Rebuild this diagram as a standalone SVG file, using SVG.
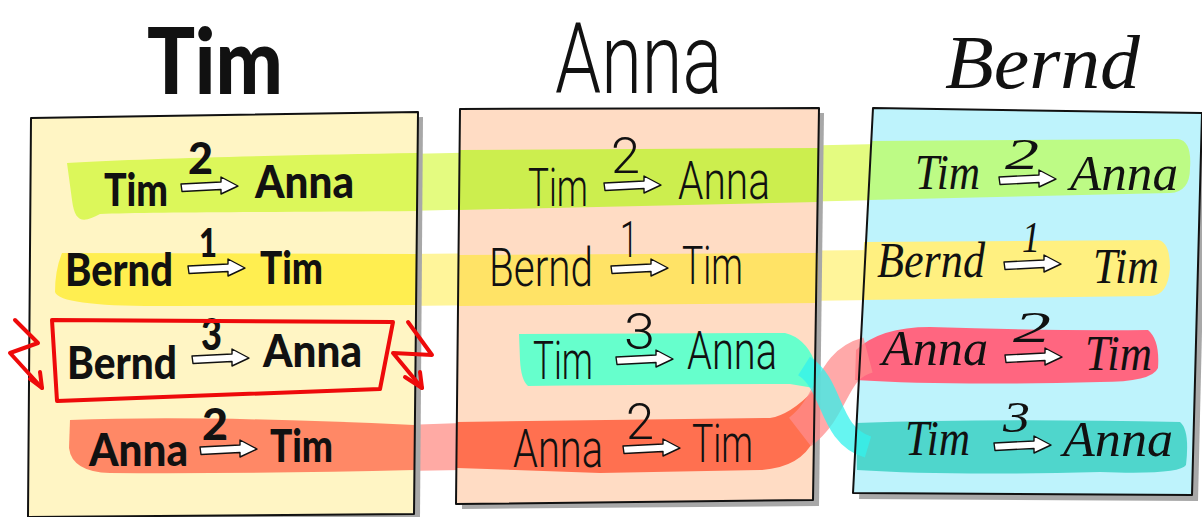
<svg xmlns="http://www.w3.org/2000/svg" xmlns:xlink="http://www.w3.org/1999/xlink" width="1202" height="517" viewBox="0 0 1202 517">
<style>
.shadow{fill:#a8a8a8}
.edge{fill:none;stroke:#111;stroke-width:2;stroke-linejoin:round}
.b{font-family:"Lato","DejaVu Sans",sans-serif;font-weight:900;fill:#111}
.h{font-family:"Roboto","Open Sans",sans-serif;font-weight:300;fill:#111}
.c{font-family:"Liberation Serif","DejaVu Serif",serif;font-style:italic;fill:#111}
.red{fill:none;stroke:#ee0a0a;stroke-width:4;stroke-linejoin:round;stroke-linecap:round}
.arr{fill:#fff;stroke:#111;stroke-width:1.4;stroke-linejoin:round}
</style>
<defs>
<path id="ar" d="M0,-2 L40,-4 L40,-9 L57,0 L40,8 L40,3.5 L1,5.5 Z"/>
</defs>
<rect width="1202" height="517" fill="#fff"/>
<!-- bands outside panels -->
<g id="band-outside">
<path d="M405,154 L880,144 L880,200 L405,211 Z" fill="#e4fb80"/>
<path d="M405,254 L875,250 L875,300 L405,306 Z" fill="#fff59a"/>
<path d="M405,425 L462,423 L462,470 L405,471 Z" fill="#ffaaa4"/>
</g>
<!-- panel shadows -->
<polygon class="shadow" points="36,123 423,117 420,519 33,521"/>
<polygon class="shadow" points="465,114 824,113 819,506 462,509"/>
<polygon class="shadow" points="878,113 1207,118 1198,501 859,499"/>
<!-- panels -->
<g id="panel-tim">
<polygon points="31,118 418,112 414,514 28,517" fill="#fff5c4"/>
<path d="M67,163 C150,158 300,155 418,153 L418,211 C300,212 150,212 100,214 C85,222 75,225 72,200 Z" fill="#dcf75a"/>
<path d="M62,253 L417,254 L417,305 L170,306 Q60,307 55,292 Q55,270 62,253 Z" fill="#ffee50"/>
<path d="M70,420 Q200,415 414,425 L414,470 Q250,474 110,473 Q72,472 69,448 Z" fill="#ff8866"/>
</g>
<g id="panel-anna">
<polygon points="460,109 819,108 813,500 456,504" fill="#ffdcc4"/>
<path d="M459,150 L819,148 L818,202 L459,210 Z" fill="#ccee4e"/>
<path d="M458,255 L818,253 L817,303 L458,306 Z" fill="#ffe366"/>
<path d="M519,334 L785,333 Q805,338 814,360 L814,388 L790,384 Q700,384 528,386 Q521,380 520,360 Z" fill="#66ffcc"/>
<path d="M457,422 L770,418 Q790,415 814,390 L814,440 Q800,468 760,470 L600,473 L457,468 Z" fill="#ff7050"/>
</g>
<g id="panel-bernd">
<polygon points="873,108 1202,113 1192,495 853,493" fill="#bef3fc"/>
<path d="M871,141 L1178,139 Q1192,141 1190,168 Q1190,192 1170,193 L868,200 Z" fill="#bdfb85"/>
<path d="M864,242 L1158,240 Q1170,242 1170,268 Q1168,296 1150,296 L862,300 Z" fill="#fff080"/>
<path d="M856,350 Q880,327 930,327 Q1050,331 1148,330 Q1160,340 1158,368 Q1152,382 1100,382 Q950,386 855,380 Z" fill="#ff6680"/>
<path d="M856,423 Q1000,418 1180,422 Q1190,430 1186,465 Q1180,475 1100,472 Q950,476 857,470 Z" fill="#4fd6cc"/>
</g>
<!-- connectors: ribbons between columns -->
<g id="connectors">
<path d="M800,432 C835,405 830,365 868,355" fill="none" stroke="#ff8c8c" stroke-width="36" stroke-opacity="0.75"/>
<path d="M804,366 C834,385 828,435 868,447" fill="none" stroke="#33f2ec" stroke-width="22" stroke-opacity="0.75"/>
</g>
<!-- panel edges -->
<polygon class="edge" points="31,118 418,112 414,514 28,517"/>
<polygon class="edge" points="460,109 819,108 813,500 456,504"/>
<polygon class="edge" points="873,108 1202,113 1192,495 853,493"/>
<!-- titles -->
<g id="titles">
<text class="b" x="147" y="94" font-size="92" textLength="136" lengthAdjust="spacingAndGlyphs">Tim</text>
<text class="h" x="555" y="93" font-size="98" textLength="167" lengthAdjust="spacingAndGlyphs">Anna</text>
<text class="c" x="945" y="88" font-size="76" textLength="195" lengthAdjust="spacingAndGlyphs">Bernd</text>
</g>
<!-- Tim column -->
<g id="tim-rows">
<text class="b" x="104" y="206" font-size="46" textLength="64" lengthAdjust="spacingAndGlyphs">Tim</text>
<text class="b" x="188" y="174" font-size="44" textLength="25" lengthAdjust="spacingAndGlyphs">2</text>
<use xlink:href="#ar" class="arr" transform="translate(181,186)"/>
<text class="b" x="255" y="198" font-size="46" textLength="99" lengthAdjust="spacingAndGlyphs">Anna</text>

<text class="b" x="65" y="286" font-size="46" textLength="108" lengthAdjust="spacingAndGlyphs">Bernd</text>
<text class="b" x="199" y="257" font-size="40" textLength="18" lengthAdjust="spacingAndGlyphs">1</text>
<use xlink:href="#ar" class="arr" transform="translate(188,268)"/>
<text class="b" x="260" y="284" font-size="46" textLength="63" lengthAdjust="spacingAndGlyphs">Tim</text>

<text class="b" x="67" y="379" font-size="46" textLength="110" lengthAdjust="spacingAndGlyphs">Bernd</text>
<text class="b" x="201" y="350" font-size="44" textLength="21" lengthAdjust="spacingAndGlyphs">3</text>
<use xlink:href="#ar" class="arr" transform="translate(192,358)"/>
<text class="b" x="263" y="367" font-size="46" textLength="99" lengthAdjust="spacingAndGlyphs">Anna</text>

<text class="b" x="89" y="466" font-size="46" textLength="99" lengthAdjust="spacingAndGlyphs">Anna</text>
<text class="b" x="202" y="440" font-size="44" textLength="26" lengthAdjust="spacingAndGlyphs">2</text>
<use xlink:href="#ar" class="arr" transform="translate(200,449)"/>
<text class="b" x="270" y="462" font-size="46" textLength="63" lengthAdjust="spacingAndGlyphs">Tim</text>
</g>
<!-- highlight box -->
<g id="highlight">
<polygon class="red" points="52,320 393,322 380,389 57,401"/>
<polyline class="red" points="15,320 38,343 10,353 42,388"/>
<polyline class="red" points="30,379 42,388 40,372"/>
<polyline class="red" points="408,322 432,355 393,353 422,388"/>
<polyline class="red" points="405,377 422,388 420,372"/>
</g>
<!-- Anna column -->
<g id="anna-rows">
<text class="h" x="528" y="206" font-size="54" textLength="60" lengthAdjust="spacingAndGlyphs">Tim</text>
<text class="h" x="611" y="173" font-size="50" textLength="29" lengthAdjust="spacingAndGlyphs">2</text>
<use xlink:href="#ar" class="arr" transform="translate(604,185)"/>
<text class="h" x="678" y="199" font-size="54" textLength="92" lengthAdjust="spacingAndGlyphs">Anna</text>

<text class="h" x="489" y="286" font-size="54" textLength="104" lengthAdjust="spacingAndGlyphs">Bernd</text>
<text class="h" x="620" y="257" font-size="50" textLength="18" lengthAdjust="spacingAndGlyphs">1</text>
<use xlink:href="#ar" class="arr" transform="translate(611,268)"/>
<text class="h" x="682" y="284" font-size="54" textLength="61" lengthAdjust="spacingAndGlyphs">Tim</text>

<text class="h" x="533" y="379" font-size="54" textLength="60" lengthAdjust="spacingAndGlyphs">Tim</text>
<text class="h" x="624" y="349" font-size="50" textLength="31" lengthAdjust="spacingAndGlyphs">3</text>
<use xlink:href="#ar" class="arr" transform="translate(616,359)"/>
<text class="h" x="687" y="369" font-size="54" textLength="90" lengthAdjust="spacingAndGlyphs">Anna</text>

<text class="h" x="513" y="467" font-size="54" textLength="90" lengthAdjust="spacingAndGlyphs">Anna</text>
<text class="h" x="626" y="439" font-size="50" textLength="28" lengthAdjust="spacingAndGlyphs">2</text>
<use xlink:href="#ar" class="arr" transform="translate(623,448)"/>
<text class="h" x="692" y="462" font-size="54" textLength="61" lengthAdjust="spacingAndGlyphs">Tim</text>
</g>
<!-- Bernd column -->
<g id="bernd-rows">
<text class="c" x="915" y="189" font-size="50" textLength="65" lengthAdjust="spacingAndGlyphs">Tim</text>
<text class="c" x="1005" y="169" font-size="44" textLength="34" lengthAdjust="spacingAndGlyphs">2</text>
<use xlink:href="#ar" class="arr" transform="translate(999,179)"/>
<text class="c" x="1070" y="190" font-size="50" textLength="108" lengthAdjust="spacingAndGlyphs">Anna</text>

<text class="c" x="877" y="277" font-size="50" textLength="108" lengthAdjust="spacingAndGlyphs">Bernd</text>
<text class="c" x="1022" y="252" font-size="44" textLength="18" lengthAdjust="spacingAndGlyphs">1</text>
<use xlink:href="#ar" class="arr" transform="translate(1004,264)"/>
<text class="c" x="1093" y="283" font-size="50" textLength="66" lengthAdjust="spacingAndGlyphs">Tim</text>

<text class="c" x="882" y="365" font-size="50" textLength="106" lengthAdjust="spacingAndGlyphs">Anna</text>
<text class="c" x="1013" y="342" font-size="44" textLength="38" lengthAdjust="spacingAndGlyphs">2</text>
<use xlink:href="#ar" class="arr" transform="translate(1005,357)"/>
<text class="c" x="1085" y="370" font-size="50" textLength="67" lengthAdjust="spacingAndGlyphs">Tim</text>

<text class="c" x="905" y="455" font-size="50" textLength="65" lengthAdjust="spacingAndGlyphs">Tim</text>
<text class="c" x="1003" y="432" font-size="44" textLength="27" lengthAdjust="spacingAndGlyphs">3</text>
<use xlink:href="#ar" class="arr" transform="translate(994,445)"/>
<text class="c" x="1063" y="456" font-size="50" textLength="110" lengthAdjust="spacingAndGlyphs">Anna</text>
</g>
</svg>
